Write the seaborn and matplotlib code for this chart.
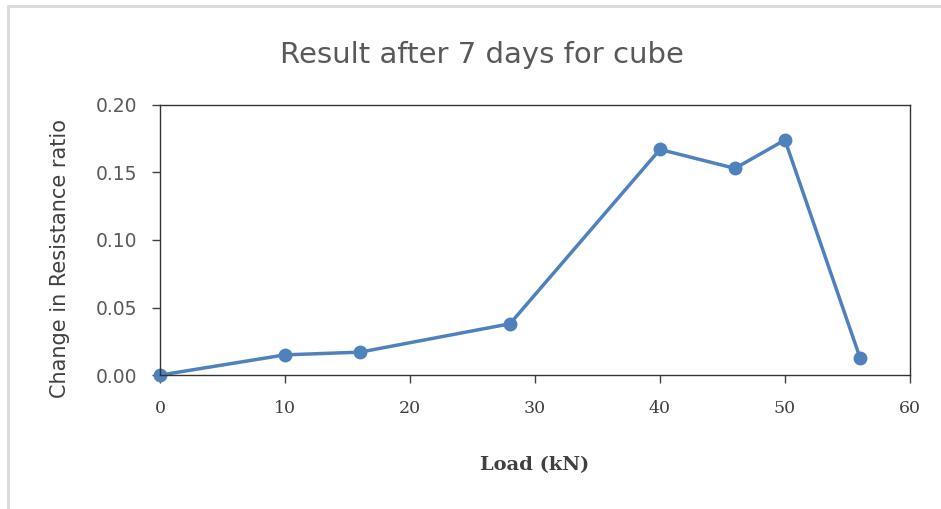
import numpy as np
import pandas as pd
import seaborn as sns
from matplotlib import pyplot as plt
from matplotlib.lines import Line2D

# values
load_kn = [0, 10, 16, 28, 40, 46, 50, 56]
resistance_ratio = [0.0, 0.015, 0.017, 0.038, 0.167, 0.153, 0.174, 0.013]
x_ticks = [0, 10, 20, 30, 40, 50, 60]
y_ticks = [0.00, 0.05, 0.10, 0.15, 0.20]

df = pd.DataFrame({"Load": load_kn, "Ratio": resistance_ratio})

sns.set_style("white")
plt.rcParams["font.family"] = ["DejaVu Sans"]

fig = plt.figure(figsize = (9.41, 5.09), dpi = 100)
ax = fig.add_axes([0.170, 0.263, 0.797, 0.531])

sns.lineplot(
    data = df,
    x = "Load",
    y = "Ratio",
    color = "#4f81bd",
    linewidth = 2.5,
    marker = "o",
    markersize = 10,
    markeredgewidth = 0,
    clip_on = False,
    ax = ax
)

ax.set_xlim(0, 60)
ax.set_ylim(0, 0.2)
ax.set_xticks(x_ticks)
ax.set_yticks(y_ticks)
ax.set_yticklabels([f"{v:.2f}" for v in y_ticks], fontsize = 13.5, color = "#595959")
ax.set_xticklabels([str(v) for v in x_ticks], fontsize = 12.5, color = "#404040",
                   family = "DejaVu Serif")
ax.tick_params(axis = "both", direction = "out", length = 6, width = 1, color = "#404040",
               bottom = True, left = True)
ax.tick_params(axis = "x", pad = 12)
ax.tick_params(axis = "y", pad = 10)

for s in ax.spines.values():
    s.set_color("#333333")
    s.set_linewidth(1)

ax.set_xlabel("Load (kN)", fontsize = 14, fontweight = "bold", family = "DejaVu Serif",
              color = "#404040", labelpad = 28)
ax.set_ylabel("Change in Resistance ratio", fontsize = 15, color = "#404040",
              ha = "center", va = "center")
ax.yaxis.set_label_coords(-0.133, 0.433)

fig.text(0.512, 1 - 63 / 509, "Result after 7 days for cube", ha = "center", va = "baseline",
         fontsize = 21, color = "#595959")

# light gray frame along top and left edge
fig.add_artist(Line2D([0.0085, 1.0], [0.988, 0.988], transform = fig.transFigure,
                      color = "#d9d9d9", linewidth = 2))
fig.add_artist(Line2D([0.0085, 0.0085], [0.0, 0.988], transform = fig.transFigure,
                      color = "#d9d9d9", linewidth = 2))

plt.savefig("out.png", dpi = 100)
